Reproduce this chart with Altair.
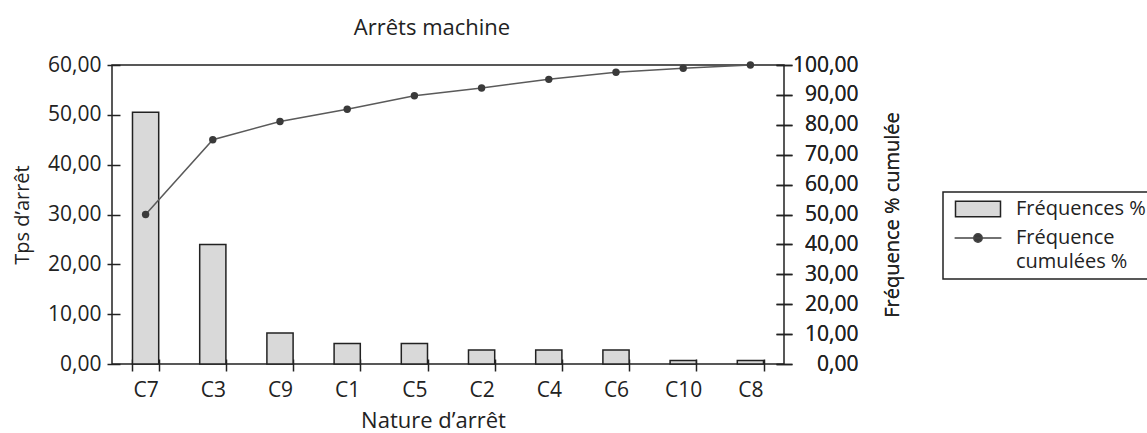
import altair as alt
import pandas as pd

categories = ["C7", "C3", "C9", "C1", "C5", "C2", "C4", "C6", "C10", "C8"]
frequences = [50.5, 24.0, 6.2, 4.1, 4.1, 2.8, 2.8, 2.8, 0.7, 0.7]
cumulees = [50.0, 75.0, 81.1, 85.2, 89.7, 92.3, 95.2, 97.6, 98.9, 100.0]
left_ticks = [0, 10, 20, 30, 40, 50, 60]
right_ticks = [0, 10, 20, 30, 40, 50, 60, 70, 80, 90, 100]
series = ["Fréquences %", "Fréquence cumulées %"]

df = pd.DataFrame({"cat": categories, "freq": frequences, "cum": cumulees})
legend_df = pd.DataFrame({"series": series})

FONT = "Open Sans"
INK = "#222222"
fmt = "replace(format(datum.value, '.2f'), '.', ',')"

# legend symbol paths (unit = half the symbol size)
rect_path = "M-3.75,-1.3H3.75V1.3H-3.75Z"
line_path = "M-3.9,0H3.9M0.7,0A0.7,0.7 0 1 1 -0.7,0A0.7,0.7 0 1 1 0.7,0Z"

x_enc = alt.X(
    "cat:N",
    sort=categories,
    scale=alt.Scale(paddingInner=0.61, paddingOuter=0.305),
    axis=alt.Axis(
        title="Nature d’arrêt",
        tickBand="extent",
        domain=False,
        tickSize=12,
        offset=-5,
        labelPadding=8,
        labelAngle=0,
        titlePadding=10,
        titleX=321,
        titleFontSize=22,
    ),
)

bars = alt.Chart(df).mark_bar(fill="#d9d9d9", stroke=INK, strokeWidth=1.5).encode(
    x=x_enc,
    y=alt.Y(
        "freq:Q",
        scale=alt.Scale(domain=[0, 60], nice=False),
        axis=alt.Axis(
            values=left_ticks,
            title="Tps d’arrêt",
            labelExpr=fmt,
            domain=False,
            grid=False,
            tickSize=13,
            offset=-8,
            labelPadding=6,
            titlePadding=15,
        ),
    ),
)

y_right = alt.Y(
    "cum:Q",
    scale=alt.Scale(domain=[0, 100], nice=False),
    axis=alt.Axis(
        orient="right",
        values=right_ticks,
        title="Fréquence % cumulée",
        labelExpr=fmt,
        domain=False,
        grid=False,
        tickSize=16,
        offset=-8,
        labelAlign="right",
        labelPadding=66,
        titleAngle=270,
        titlePadding=44,
    ),
)

line = alt.Chart(df).mark_line(color="#5a5a5a", strokeWidth=1.5).encode(
    x=alt.X("cat:N", sort=categories), y=y_right
)
points = alt.Chart(df).mark_point(filled=True, color="#3a3a3a", size=55, opacity=1).encode(
    x=alt.X("cat:N", sort=categories), y=y_right
)

leg = alt.Legend(
    orient="none",
    legendX=831,
    legendY=127,
    title=None,
    strokeColor=INK,
    fillColor="white",
    padding=7,
    symbolSize=144,
    symbolOffset=18,
    symbolOpacity=1,
    symbolStrokeWidth=1.5,
    labelFont=FONT,
    labelFontSize=20,
    labelColor=INK,
    labelOffset=28,
    labelLimit=400,
    rowPadding=8,
    labelExpr="datum.label == 'Fréquence cumulées %' ? ['Fréquence', 'cumulées %'] : datum.label",
)

legend_layer = alt.Chart(legend_df).mark_point(filled=True, opacity=0).encode(
    fill=alt.Fill("series:N", scale=alt.Scale(domain=series, range=["#d9d9d9", "#3a3a3a"]), legend=leg),
    stroke=alt.Stroke("series:N", scale=alt.Scale(domain=series, range=[INK, "#444444"]), legend=leg),
    shape=alt.Shape("series:N", scale=alt.Scale(domain=series, range=[rect_path, line_path]), legend=leg),
)

chart = (
    alt.layer(bars, line, points, legend_layer)
    .resolve_scale(y="independent")
    .properties(
        width=672,
        height=299,
        autosize=alt.AutoSizeParams(type="none"),
        padding={"left": 112, "top": 65, "right": 363, "bottom": 69},
        title=alt.TitleParams("Arrêts machine", font=FONT, fontSize=22, fontWeight="normal", color=INK, offset=14, dx=-16),
    )
    .configure_view(stroke=INK, strokeWidth=1.5)
    .configure_legend(strokeWidth=1.5)
    .configure_axis(
        labelFont=FONT,
        labelFontSize=21,
        labelColor=INK,
        titleFont=FONT,
        titleFontSize=20,
        titleFontWeight="normal",
        titleColor=INK,
        tickColor=INK,
        tickWidth=1.5,
    )
)

try:
    chart.config.style = {"guide-label": {"lineHeight": 24}}
except Exception:
    pass

chart.save("out.html", embed_options={"renderer": "svg", "actions": False})
